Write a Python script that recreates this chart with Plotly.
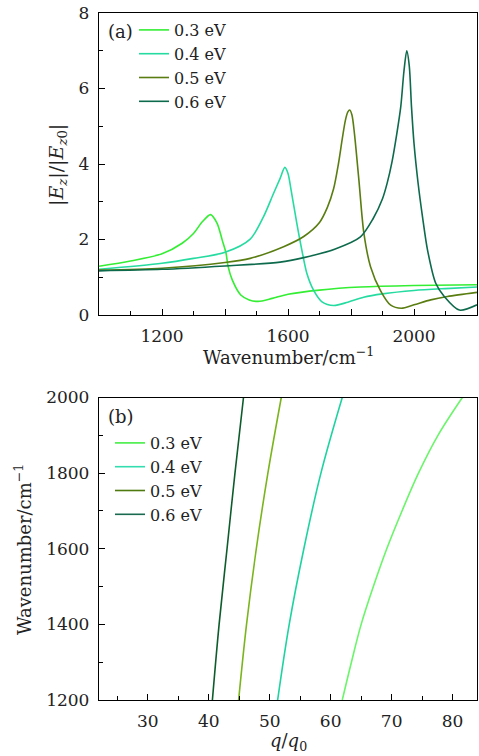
import plotly.graph_objects as go

# ---------------- Panel (a) data ----------------
labels = ["0.3 eV", "0.4 eV", "0.5 eV", "0.6 eV"]

a_x03 = [1000, 1100, 1200, 1264, 1300, 1328, 1354, 1375, 1391, 1403, 1410, 1423, 1450, 1477, 1505, 1550, 1600, 1700, 1830, 2000, 2200]
a_y03 = [1.29, 1.43, 1.62, 1.90, 2.16, 2.47, 2.66, 2.43, 1.99, 1.65, 1.28, 0.93, 0.53, 0.40, 0.36, 0.44, 0.55, 0.66, 0.74, 0.78, 0.80]

a_x04 = [1000, 1200, 1300, 1400, 1480, 1522, 1554, 1575, 1590, 1600, 1610, 1628, 1644, 1660, 1681, 1708, 1745, 1790, 1840, 1900, 2000, 2100, 2200]
a_y04 = [1.21, 1.37, 1.50, 1.66, 2.01, 2.60, 3.22, 3.62, 3.91, 3.75, 3.30, 2.43, 1.72, 1.10, 0.66, 0.35, 0.25, 0.34, 0.47, 0.56, 0.65, 0.70, 0.74]

a_x05 = [1000, 1200, 1400, 1480, 1586, 1650, 1700, 1725, 1745, 1760, 1772, 1782, 1790, 1796, 1803, 1811, 1825, 1841, 1862, 1894, 1926, 1960, 2000, 2053, 2106, 2200]
a_y05 = [1.19, 1.24, 1.39, 1.50, 1.81, 2.08, 2.45, 2.85, 3.35, 4.00, 4.65, 5.15, 5.38, 5.43, 5.30, 4.80, 3.58, 2.16, 1.28, 0.64, 0.26, 0.18, 0.27, 0.40, 0.49, 0.60]

a_x06 = [1000, 1200, 1400, 1575, 1650, 1750, 1830, 1870, 1900, 1915, 1930, 1945, 1958, 1968, 1977, 1985, 1992, 2000, 2013, 2027, 2043, 2069, 2096, 2144, 2200]
a_y06 = [1.17, 1.21, 1.30, 1.40, 1.52, 1.75, 2.07, 2.55, 3.08, 3.50, 4.05, 4.78, 5.52, 6.45, 7.00, 6.60, 5.52, 4.55, 3.49, 2.60, 1.72, 0.84, 0.49, 0.13, 0.27]

# ---------------- Panel (b) data ----------------
b_w03 = [1200, 1300, 1400, 1500, 1600, 1700, 1800, 1900, 2000]
b_q03 = [61.9, 63.4, 65.0, 67.0, 69.2, 71.7, 74.4, 77.6, 81.6]
b_w = [1200, 1400, 1600, 1800, 2000]
b_q04 = [51.3, 53.2, 55.6, 58.4, 61.9]
b_q05 = [44.9, 46.2, 47.8, 49.7, 51.9]
b_q06 = [40.6, 41.7, 43.0, 44.3, 45.7]

a_tickvals = [1000, 1200, 1400, 1600, 1800, 2000, 2200]
a_ticktext = ["", "1200", "", "1600", "", "2000", ""]

colors_a = ["#33ee33", "#25dba0", "#5a7d12", "#0e6a4c"]
colors_b = ["#6af56a", "#1ed3a0", "#7ab51d", "#0d5c2c"]
colors_b_leg = ["#44ee44", "#33ddb0", "#4f7a10", "#1a6a50"]

FONT = "DejaVu Serif"
TXT = "#222"
W, H = 479, 756

fig = go.Figure()

a_series = [(a_x03, a_y03), (a_x04, a_y04), (a_x05, a_y05), (a_x06, a_y06)]
for (xs, ys), lab, c in zip(a_series, labels, colors_a):
    fig.add_trace(go.Scatter(x=xs, y=ys, mode="lines", name=lab,
                             line=dict(color=c, width=1.6, shape="spline", smoothing=0.8),
                             xaxis="x", yaxis="y", legend="legend"))

b_series = [(b_q03, b_w03), (b_q04, b_w), (b_q05, b_w), (b_q06, b_w)]
for (qs, ws), lab, c in zip(b_series, labels, colors_b):
    fig.add_trace(go.Scatter(x=qs, y=ws, mode="lines", name=lab, showlegend=False,
                             line=dict(color=c, width=1.6, shape="spline"),
                             xaxis="x2", yaxis="y2"))
for lab, c in zip(labels, colors_b_leg):
    fig.add_trace(go.Scatter(x=[None], y=[None], mode="lines", name=lab,
                             line=dict(color=c, width=1.6),
                             xaxis="x2", yaxis="y2", legend="legend2"))


def px_x(p):
    return p / W


def px_y(p):
    return 1 - p / H


axis_common = dict(showline=True, linecolor="black", linewidth=1.3, mirror=True,
                   ticks="inside", ticklen=6, tickwidth=1.2, tickcolor="black",
                   showgrid=False, zeroline=False,
                   tickfont=dict(family=FONT, size=17, color=TXT))
minor_common = dict(ticks="inside", ticklen=4, tickwidth=1.1, tickcolor="black", showgrid=False)

legfont = dict(family=FONT, size=16, color=TXT)
annfont = dict(family=FONT, size=18, color=TXT)

fig.update_layout(
    width=W, height=H,
    margin=dict(l=0, r=0, t=0, b=0, autoexpand=False),
    plot_bgcolor="white", paper_bgcolor="white",
    font=dict(family=FONT, size=16, color=TXT),
    xaxis=dict(domain=[px_x(99), px_x(477)], range=[1000, 2200], anchor="y",
               tickmode="array", tickvals=a_tickvals, ticktext=a_ticktext,
               ticklabelstandoff=5,
               minor=dict(dtick=100, tick0=1000, **minor_common), **axis_common),
    yaxis=dict(domain=[px_y(315), px_y(13)], range=[0, 8], anchor="x",
               dtick=2, ticklabelstandoff=5,
               minor=dict(dtick=1, **minor_common), **axis_common),
    xaxis2=dict(domain=[px_x(99), px_x(477)], range=[22, 84], anchor="y2",
                dtick=10, ticklabelstandoff=5,
                minor=dict(dtick=5, **minor_common), **axis_common),
    yaxis2=dict(domain=[px_y(700), px_y(397.5)], range=[1200, 2000], anchor="x2",
                dtick=200, ticklabelstandoff=5,
                minor=dict(dtick=100, **minor_common), **axis_common),
    legend=dict(x=px_x(134), y=px_y(13), xanchor="left", yanchor="top",
                bgcolor="rgba(0,0,0,0)", font=legfont, tracegroupgap=0, itemwidth=30),
    legend2=dict(x=px_x(110), y=px_y(426), xanchor="left", yanchor="top",
                 bgcolor="rgba(0,0,0,0)", font=legfont, tracegroupgap=0, itemwidth=30),
    annotations=[
        dict(text="(a)", x=px_x(106), y=px_y(31), xref="paper", yref="paper",
             xanchor="left", yanchor="middle", showarrow=False, font=annfont),
        dict(text="(b)", x=px_x(106), y=px_y(416), xref="paper", yref="paper",
             xanchor="left", yanchor="middle", showarrow=False, font=annfont),
        dict(text="Wavenumber/cm<sup>−1</sup>", x=px_x(288), y=px_y(356), xref="paper", yref="paper",
             xanchor="center", yanchor="middle", showarrow=False, font=annfont),
        dict(text="|<i>E</i><sub><i>z</i></sub>|/|<i>E</i><sub><i>z</i>0</sub>|", x=px_x(57), y=px_y(165),
             xref="paper", yref="paper", textangle=-90,
             xanchor="center", yanchor="middle", showarrow=False,
             font=dict(family=FONT, size=19, color=TXT)),
        dict(text="Wavenumber/cm<sup>−1</sup>", x=px_x(23), y=px_y(550), xref="paper", yref="paper",
             textangle=-90, xanchor="center", yanchor="middle", showarrow=False, font=annfont),
        dict(text="<i>q</i>/<i>q</i><sub>0</sub>", x=px_x(288), y=px_y(742), xref="paper", yref="paper",
             xanchor="center", yanchor="middle", showarrow=False, font=annfont),
    ],
)

fig.write_html("out.html", config={"displayModeBar": False},
               post_script="document.body.style.margin='0';document.body.style.overflow='hidden';")
